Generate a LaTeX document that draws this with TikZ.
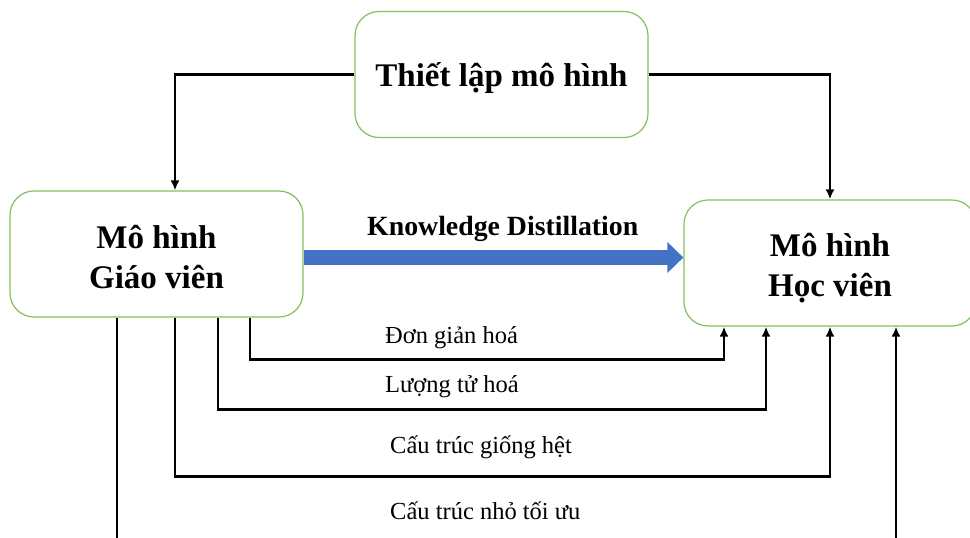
\documentclass[tikz,border=0pt]{standalone}
\usepackage{fontspec}
\setmainfont{Liberation Serif}
\usetikzlibrary{arrows.meta}
\definecolor{boxgreen}{RGB}{132,192,92}
\definecolor{kdblue}{RGB}{68,114,196}
\begin{document}
\begin{tikzpicture}[x=1pt,y=-1pt,
  modelbox/.style={draw=boxgreen,line width=1.2pt,rounded corners=24pt,
    minimum width=293pt,minimum height=126pt,inner sep=0pt},
  boxtext/.style={align=center,inner sep=0pt,
    font=\fontsize{33}{39.5}\selectfont\bfseries},
  conn/.style={line width=2.6pt,-{Latex[length=10pt,width=9pt]}},
  plainline/.style={line width=2.6pt},
  kd/.style={draw=kdblue,line width=15pt,-{Triangle[length=16pt,width=30pt]}},
  lbl/.style={anchor=base west,inner sep=0pt,font=\fontsize{24.5}{28}\selectfont}]
\useasboundingbox (0,0) rectangle (970,538);
\clip (0,0) rectangle (970,538);

% model boxes
\node[modelbox] (setup) at (501.5,74.5) {};
\node[modelbox] (teacher) at (156.5,254) {};
\node[modelbox,minimum width=292pt] (student) at (830,263) {};
\node[boxtext] (setuptext) at ([yshift=-3.5pt]setup.center) {Thiết lập mô hình};
\node[boxtext] (teachertext) at ([yshift=-3pt]teacher.center) {Mô hình\\Giáo viên};
\node[boxtext] (studenttext) at ([yshift=-5pt]student.center) {Mô hình\\Học viên};

% column and row helpers
\coordinate (ta) at (175,0);
\coordinate (t1) at (250,0);
\coordinate (t2) at (218,0);
\coordinate (t3) at (175,0);
\coordinate (s1) at (724,0);
\coordinate (s2) at (766,0);
\coordinate (s3) at (830,0);
\coordinate (offL) at (117,545);
\coordinate (offR) at (896,545);
\coordinate (kdy) at (0,257.5);

% setup feeds both models
\draw[conn] (setup.west) -| (teacher.north -| ta);
\draw[conn] (setup.east) -| (student.north);

% knowledge distillation arrow
\draw[kd] (teacher.east |- kdy) -- (student.west |- kdy);
\node[anchor=base west,inner sep=0pt,font=\fontsize{27.8}{30}\selectfont\bfseries]
  (kdlabel) at (367,235) {Knowledge Distillation};

% compression routes
\draw[conn] (teacher.south -| t1) -- ++(0,42) -| (student.south -| s1);
\draw[conn] (teacher.south -| t2) -- ++(0,92) -| (student.south -| s2);
\draw[conn] (teacher.south -| t3) -- ++(0,159) -| (student.south -| s3);
\draw[plainline] (teacher.south -| offL) -- (offL);
\draw[conn] (offR) -- (student.south -| offR);

\node[lbl] (l1) at (385,343) {Đơn giản hoá};
\node[lbl] (l2) at (385,392) {Lượng tử hoá};
\node[lbl] (l3) at (390,453) {Cấu trúc giống\ hệt};
\node[lbl] (l4) at (390,519) {Cấu trúc nhỏ tối ưu};
\end{tikzpicture}
\end{document}
